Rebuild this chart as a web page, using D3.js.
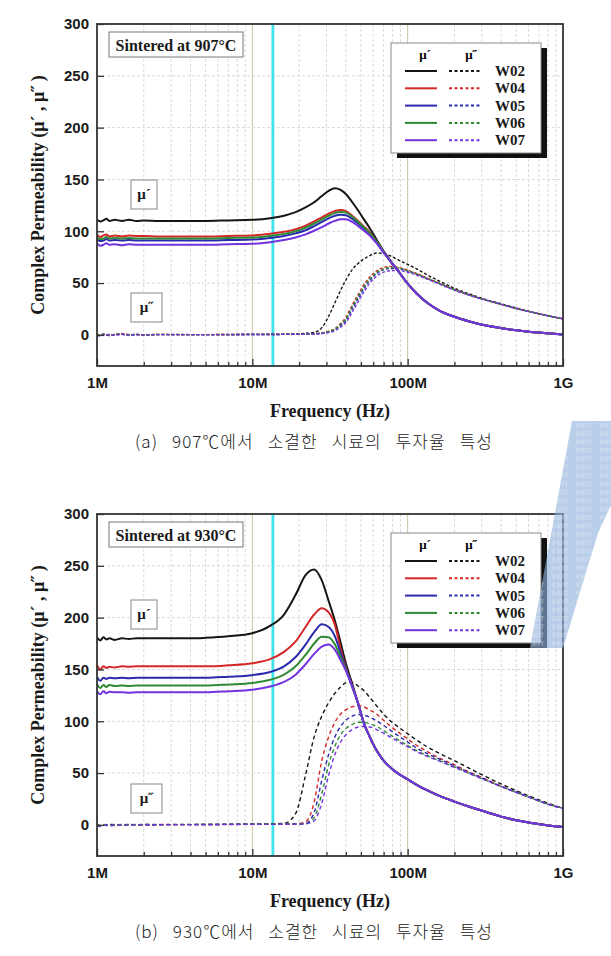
<!DOCTYPE html>
<html><head><meta charset="utf-8">
<script src="https://cdn.jsdelivr.net/npm/d3@7"></script>
<style>body{margin:0;background:#fff}svg{display:block}</style>
</head><body>
<svg id="c" width="611" height="956"></svg>
<script>
// ---------------- DATA ----------------
const samples = ["W02", "W04", "W05", "W06", "W07"];
const sampleColors = ["#151515", "#d42828", "#2a2aae", "#2f8a34", "#7433e0"];
const xTickLabels = ["1M", "10M", "100M", "1G"];
const xTickValuesMHz = [1, 10, 100, 1000];
const yTickValues = [0, 50, 100, 150, 200, 250, 300];
const markerFreqMHz = 13.56;
const chartTitles = ["Sintered at 907°C", "Sintered at 930°C"];
const captions = ["(a) 907℃에서 소결한 시료의 투자율 특성", "(b) 930℃에서 소결한 시료의 투자율 특성"];

const freqMHz = [1, 1.05, 1.1, 1.15, 1.2, 1.3, 1.45, 1.6, 1.8, 2, 2.5, 3, 4, 5, 7, 10,
  13, 16, 19, 22, 25, 28, 31, 34, 37, 40, 44, 48, 52, 57, 63, 70, 78, 88, 100, 115, 135, 160, 200, 250, 320, 400, 500, 650, 800, 1000];

// 907 C : mu' (real)  order W02, W04, W05, W06, W07
const muReal907 = [
  [111,109.5,110.5,112,110,111,110,111,110,110.5,110,110,110,110,110.5,111, 112.5,115,118.5,123,128,134,139,141.5,140,136,128,120,112,103,92,81,71,60.5,49.5,39.5,30.5,23.5,17.5,13,9,6.5,4.5,2.5,1.5,0.5],
  [97,94.5,96,97,95,96,95,96,95.5,95.5,95,95,95,95,95.5,96, 97.5,99.5,102,105.5,109.5,113.5,117,119.5,120.5,119.5,115,110,105,99,90,80,70.5,60.5,49.5,39.5,30.5,23.5,17.5,13,9,6.5,4.5,2.5,1.5,0.5],
  [92,90.5,91,92.5,91,91.5,91,91.5,91,91,91,91,91,91,91.5,92, 93.5,95.5,98,101,105,109,112.5,115,116,115.5,112,107.5,103,97.5,89.5,80,70.5,60.5,49.5,39.5,30.5,23.5,17.5,13,9,6.5,4.5,2.5,1.5,0.5],
  [94,92.5,93,94.5,93,93.5,93,93.5,93,93,93,93,93,93,93.5,94, 95.5,97.5,100,103.5,107.5,111.5,115,117.5,118.5,118,114,109,104,98.5,90,80,70.5,60.5,49.5,39.5,30.5,23.5,17.5,13,9,6.5,4.5,2.5,1.5,0.5],
  [88,86,87,88.5,87,87.5,86.5,87.5,87,87,87,87,87,87,87.5,88, 89.5,91.5,94,97,100.5,104,107.5,110,111.5,111.5,109,105,101,96,88.5,79.5,70.5,60.5,49.5,39.5,30.5,23.5,17.5,13,9,6.5,4.5,2.5,1.5,0.5]
];
// 907 C : mu'' (imaginary)
const muImag907 = [
  [0.5,-0.5,1,0,-0.5,0.5,1,0,0.5,0,0.5,0.5,0.3,0.3,0.4,0.5, 0.6,0.8,1,1.5,2.5,7,18,31,43,53,63,69,73,76.5,79,78.5,76,72,68,63.5,57.5,52,45,39.5,34,30,26,21.5,18.5,15.5],
  [0.5,-0.5,0.5,0.5,-0.5,0,1,0.5,0,0,0.5,0.3,0.3,0.3,0.4,0.5, 0.5,0.6,0.7,0.9,1.2,2,3.5,6,11,17,29,39,48,56,61.5,65,66,65,62.5,59,54.5,50,44,38.5,33.5,29.5,25.5,21.5,18.5,15.5],
  [0,-0.5,0.5,0,0.5,0,0.5,0,0.5,0,0.3,0.3,0.3,0.3,0.3,0.4, 0.4,0.5,0.6,0.8,1,1.6,2.8,5,9,14,25,35,44,52.5,59,63,64,63.5,61.5,58.5,54,49.5,43.5,38.5,33.5,29.5,25.5,21.5,18.5,15.5],
  [0.5,0,0.5,0.5,0,0.5,0.5,0,0.5,0,0.3,0.3,0.3,0.3,0.3,0.4, 0.4,0.5,0.6,0.8,1.1,1.8,3.2,5.5,10,15.5,27,37,46,54,60,63.5,65,64.5,62,58.8,54.2,49.8,43.8,38.5,33.5,29.5,25.5,21.5,18.5,15.5],
  [-0.5,-1,0,0.5,-0.5,0,0.5,-0.5,0,0,0.3,0.3,0.3,0.3,0.3,0.4, 0.4,0.5,0.6,0.7,0.9,1.3,2.3,4,7.5,12,22,32,41,50,56.5,60.5,62,62,60.5,57.5,53.5,49,43.2,38.2,33.5,29.5,25.5,21.5,18.5,15.5]
];
// 930 C : mu' (real)
const muReal930 = [
  [181,178,181,179,180,178.5,180,179.5,180,180,180,180,180,180.5,182,185, 192,203,222,241,246.5,236,216,197,176,156,136,117,99,85,72,62,55,49,44,38.5,33,28,22.5,17.5,12.5,8,4.5,1.5,-0.5,-2],
  [154,150,153,151.5,152.5,152,153,152.5,153,153,153,153,153,153,154,156, 160,167,177,191,203,209,205,193,170,152,134,117,99,85,72,62,55,49,44,38.5,33,28,22.5,17.5,12.5,8,4.5,1.5,-0.5,-2],
  [143,139,142,141,142,141.5,142,141.5,142,142,142,142,142,142,143,144.5, 147.5,153,162,174,186,193.5,191,182,166,151,134,117,99,85,72,62,55,49,44,38.5,33,28,22.5,17.5,12.5,8,4.5,1.5,-0.5,-2],
  [136,132,135,133,135,134,134.5,134,134.5,134.5,134.5,134.5,134.5,134.5,135.5,137, 140,145,153,164,175,181.5,181,174,162,150,133,117,99,85,72,62,55,49,44,38.5,33,28,22.5,17.5,12.5,8,4.5,1.5,-0.5,-2],
  [129,126,129,127,128.5,128,128,127.5,128,128,128,128,128,128,129,130.5, 133.5,138,145,155,165,172,174,169,159,149,133,117,99,85,72,62,55,49,44,38.5,33,28,22.5,17.5,12.5,8,4.5,1.5,-0.5,-2]
];
// 930 C : mu'' (imaginary)
const muImag930 = [
  [0,-1,0.5,-0.5,0.5,0,-0.5,0.5,0,0.5,0,0.5,0.5,0.5,0.6,0.8, 1,1.5,11,48,85,105,118,127,133,137,137.5,134,130,123,115,107,100,94,88,81.5,75,69,62,54.5,46.5,39.5,33,26,21,16],
  [-0.5,-1,0,0,0.5,-0.5,0,0.5,0,0,0.5,0.3,0.3,0.4,0.5,0.6, 0.7,0.8,1,3,22,62,85,99,107,111,114,115,114,111,107,101,95,89,83,76.5,70.5,64.5,58,51,44,37.5,31.5,25,20,16],
  [0,-0.5,0.5,-0.5,0,0.5,0,0,0.5,0,0.3,0.3,0.3,0.4,0.5,0.6, 0.6,0.7,0.9,1.5,12,43,68,85,95,101,105,106.5,106,104,100.5,96,91,85.5,80,74,68.5,63.5,57,50.5,43.5,37,31.5,25,20,16],
  [0.5,-0.5,0,0.5,-0.5,0,0.5,0,0,0.5,0.3,0.3,0.3,0.4,0.5,0.6, 0.6,0.7,0.8,1.2,7,30,58,76,87,93,97,99,99,97.5,95,91,86.5,81.5,76.5,71.5,66.5,62,56,49.5,43,37,31.5,25,20,16],
  [-0.5,-1.5,-0.5,0,-1,-0.5,0,-0.5,0,0,0.3,0.3,0.3,0.3,0.4,0.5, 0.5,0.6,0.7,1,4,21,48,68,80,87,92,94.5,95,94.5,92,88.5,84.5,80,75.5,70.5,66,61.5,55.5,49.5,43,37,31.5,25,20,16]
];

// ---------------- DRAWING ----------------
const svg = d3.select("#c");
const SERIF = "'Liberation Serif','Times New Roman',Times,serif";
const SANS = "'Liberation Sans',Arial,Helvetica,sans-serif";
const KR = "'Noto Sans CJK KR','Noto Sans CJK SC',sans-serif";
const PL = 97, PR = 563, PH = 342;

function drawChart(idx, top, real, imag) {
  const bottom = top + PH;
  const x = d3.scaleLog().domain([1, 1000]).range([PL, PR]);
  const y = d3.scaleLinear().domain([-30, 300]).range([bottom, top]);
  const g = svg.append("g");
  const clipId = "clip" + idx;
  g.append("clipPath").attr("id", clipId).append("rect")
    .attr("x", PL).attr("y", top).attr("width", PR - PL).attr("height", PH);

  const minor = [];
  [1, 10, 100].forEach(d => { for (let k = 2; k <= 9; k++) minor.push(d * k); });
  g.selectAll(".vminor").data(minor).join("line")
    .attr("x1", d => x(d)).attr("x2", d => x(d)).attr("y1", top).attr("y2", bottom)
    .attr("stroke", "#dadada").attr("stroke-width", 1).attr("stroke-dasharray", "3,2");
  g.selectAll(".vmajor").data([10, 100]).join("line")
    .attr("x1", d => x(d)).attr("x2", d => x(d)).attr("y1", top).attr("y2", bottom)
    .attr("stroke", "#c9c2a0").attr("stroke-width", 1);
  g.selectAll(".hgrid").data([50, 100, 150, 200, 250]).join("line")
    .attr("x1", PL).attr("x2", PR).attr("y1", d => y(d)).attr("y2", d => y(d))
    .attr("stroke", "#dadada").attr("stroke-width", 1).attr("stroke-dasharray", "3,2");

  g.append("line").attr("x1", x(markerFreqMHz)).attr("x2", x(markerFreqMHz))
    .attr("y1", top).attr("y2", bottom).attr("stroke", "#3fe3ea").attr("stroke-width", 2.8);

  const line = d3.line().x(d => x(d[0])).y(d => y(d[1])).curve(d3.curveMonotoneX);
  const curves = g.append("g").attr("clip-path", `url(#${clipId})`);
  samples.forEach((s, i) => {
    curves.append("path").datum(freqMHz.map((f, j) => [f, imag[i][j]]))
      .attr("d", line).attr("fill", "none").attr("stroke", sampleColors[i])
      .attr("stroke-width", 1.4).attr("stroke-dasharray", idx === 0 ? "3,2" : "4,3");
  });
  samples.forEach((s, i) => {
    curves.append("path").datum(freqMHz.map((f, j) => [f, real[i][j]]))
      .attr("d", line).attr("fill", "none").attr("stroke", sampleColors[i])
      .attr("stroke-width", 2);
  });

  const xMaj = g.append("g").attr("transform", `translate(0,${bottom})`)
    .call(d3.axisBottom(x).tickValues(xTickValuesMHz).tickSize(-7).tickPadding(11)
      .tickFormat((d, i) => xTickLabels[i]));
  const xMin = g.append("g").attr("transform", `translate(0,${bottom})`)
    .call(d3.axisBottom(x).tickValues(minor).tickSize(-4).tickFormat(""));
  const yAx = g.append("g").attr("transform", `translate(${PL},0)`)
    .call(d3.axisLeft(y).tickValues(yTickValues).tickSize(-7).tickPadding(8));
  [xMaj, xMin, yAx].forEach(a => {
    a.select(".domain").remove();
    a.selectAll("line").attr("stroke", "#333").attr("stroke-width", 1.3);
    a.selectAll("text").attr("font-family", SANS).attr("font-weight", "bold")
      .attr("font-size", 15).attr("fill", "#1a1a1a");
  });

  g.append("rect").attr("x", PL).attr("y", top).attr("width", PR - PL).attr("height", PH)
    .attr("fill", "none").attr("stroke", "#333").attr("stroke-width", 1.8);

  g.append("rect").attr("x", 109).attr("y", top + 8).attr("width", 134).attr("height", 25)
    .attr("fill", "#fff").attr("stroke", "#777").attr("stroke-width", 1);
  g.append("text").attr("x", 176).attr("y", top + 27).attr("text-anchor", "middle")
    .attr("font-family", SERIF).attr("font-weight", "bold").attr("font-size", 16)
    .attr("fill", "#1a1a1a").text(chartTitles[idx]);

  const lab = [
    { t: "μ´", yy: idx === 0 ? 180 : 600, w: 26 },
    { t: "μ˝", yy: idx === 0 ? 293 : 784, w: 31 }
  ];
  lab.forEach(l => {
    g.append("rect").attr("x", 131).attr("y", l.yy).attr("width", l.w).attr("height", 29)
      .attr("fill", "#fff").attr("stroke", "#888").attr("stroke-width", 1);
    g.append("text").attr("x", 131 + l.w / 2).attr("y", l.yy + 19).attr("text-anchor", "middle")
      .attr("font-family", SERIF).attr("font-weight", "bold").attr("font-size", 15)
      .attr("fill", "#1a1a1a").text(l.t);
  });

  const lx = 391, ly = top + 19, lw = 150, lh = 110;
  g.append("rect").attr("x", lx + 6).attr("y", ly + 5).attr("width", lw).attr("height", lh).attr("fill", "#111");
  g.append("rect").attr("x", lx).attr("y", ly).attr("width", lw).attr("height", lh)
    .attr("fill", "#fff").attr("stroke", "#888").attr("stroke-width", 1);
  g.append("text").attr("x", 425).attr("y", ly + 16).attr("text-anchor", "middle")
    .attr("font-family", SERIF).attr("font-weight", "bold").attr("font-size", 13).text("μ´");
  g.append("text").attr("x", 471).attr("y", ly + 16).attr("text-anchor", "middle")
    .attr("font-family", SERIF).attr("font-weight", "bold").attr("font-size", 13).text("μ˝");
  samples.forEach((s, i) => {
    const ry = ly + 28 + i * 17.3;
    g.append("line").attr("x1", 405).attr("x2", 437).attr("y1", ry).attr("y2", ry)
      .attr("stroke", sampleColors[i]).attr("stroke-width", 2);
    g.append("line").attr("x1", 449).attr("x2", 482).attr("y1", ry).attr("y2", ry)
      .attr("stroke", sampleColors[i]).attr("stroke-width", 2).attr("stroke-dasharray", "3,2.5");
    g.append("text").attr("x", 495).attr("y", ry + 5)
      .attr("font-family", SERIF).attr("font-weight", "bold").attr("font-size", 15)
      .attr("fill", "#1a1a1a").text(s);
  });

  const cy = (top + bottom) / 2;
  g.append("text").attr("transform", `translate(44,${cy}) rotate(-90)`).attr("text-anchor", "middle")
    .attr("font-family", SERIF).attr("font-weight", "bold").attr("font-size", 18)
    .attr("fill", "#1a1a1a").text("Complex Permeability (μ´ , μ˝ )");
  g.append("text").attr("x", (PL + PR) / 2).attr("y", bottom + 51).attr("text-anchor", "middle")
    .attr("font-family", SERIF).attr("font-weight", "bold").attr("font-size", 18)
    .attr("fill", "#1a1a1a").text("Frequency (Hz)");

  const cap = g.append("text").attr("x", 314).attr("y", bottom + 82).attr("text-anchor", "middle")
    .attr("font-family", KR).attr("font-weight", 300).attr("font-size", 17)
    .attr("letter-spacing", 1).attr("fill", "#222").text(captions[idx]);
  const natural = cap.node().getComputedTextLength();
  const spaces = (captions[idx].match(/ /g) || []).length;
  const ws = Math.max(0, (358 - natural) / spaces);
  cap.attr("word-spacing", ws);
}

drawChart(0, 24, muReal907, muImag907);
drawChart(1, 514, muReal930, muImag930);

// watermark
const defs = svg.append("defs");
const pat = defs.append("pattern").attr("id", "keit").attr("patternUnits", "userSpaceOnUse")
  .attr("width", 24).attr("height", 8.4);
pat.append("text").attr("x", 0).attr("y", 7).attr("font-family", SANS).attr("font-size", 7.5)
  .attr("fill", "#ffffff").attr("fill-opacity", 0.45).text("KEIT");
const wm = "572,421 611,421 611,505 598,533 563,648 530,648";
svg.append("polygon").attr("points", wm).attr("fill", "#8eb0da").attr("fill-opacity", 0.62);
svg.append("polygon").attr("points", wm).attr("fill", "url(#keit)");
</script>
</body></html>
